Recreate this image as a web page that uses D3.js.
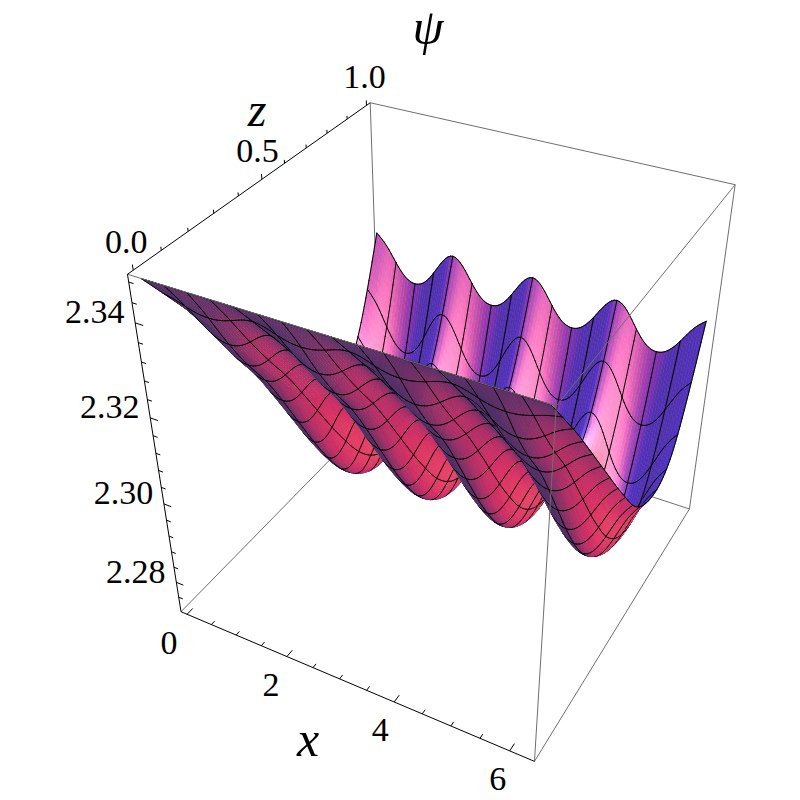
<!DOCTYPE html>
<html><head><meta charset="utf-8">
<style>html,body{margin:0;padding:0;background:#fff}svg{display:block}text{font-family:"Liberation Serif",serif;fill:#000}</style>
<script src="https://cdn.jsdelivr.net/npm/d3@7"></script>
</head><body><svg id="c" width="800" height="800"></svg>
<script>
// ---- values ----
const xDomain = [-0.126, 6.409];
const zDomain = [-0.02, 1.02];
const psiDomain = [2.3495, 2.272];
const xMajorTicks = [0, 2, 4, 6];
const xMinorTicks = [0.5, 1, 1.5, 2.5, 3, 3.5, 4.5, 5, 5.5];
const zMajorTicks = [0, 0.5, 1];
const zMinorTicks = [0.1, 0.2, 0.3, 0.4, 0.6, 0.7, 0.8, 0.9];
const psiMajorTicks = [2.34, 2.32, 2.30, 2.28];
const psiMinorTicks = [2.348, 2.344, 2.336, 2.332, 2.328, 2.324, 2.316, 2.312, 2.308, 2.304, 2.296, 2.292, 2.288, 2.284, 2.276];
const xTickLabels = ["0", "2", "4", "6"];
const zTickLabels = ["0.0", "0.5", "1.0"];
const psiTickLabels = ["2.34", "2.32", "2.30", "2.28"];
// psi along z (evenly spaced from 0 to 1) on a ripple crest and in a ripple trough
const crestPsi = [2.3483,2.3441,2.3398,2.3356,2.3309,2.3263,2.3216,2.3170,2.3123,2.3077,2.3034,2.2987,2.2953,2.2929,2.2918,2.2914,2.2925,2.2956,2.3022,2.3108,2.3204];
const troughPsi = [2.3483,2.3425,2.3356,2.3294,2.3239,2.3193,2.3131,2.3065,2.2999,2.2933,2.2875,2.2822,2.2782,2.2753,2.2736,2.2728,2.2739,2.2778,2.2867,2.2968,2.3100];
// share of crest at x = 0 ... 2 pi, evenly spaced
const rippleShare = [1,.8,.4,.09,0,.09,.4,.8,1,.8,.4,.09,0,.09,.4,.8,1,.8,.4,.09,0,.09,.4,.8,1,.8,.4,.09,0,.09,.4,.8,1];
const xMax = 6.2832;
// image position of the box corners [u,v,w, px,py]
const frameCorners = [[0,0,0,127.5,274],[0,1,0,370.5,103],[1,1,0,735,184],[1,0,0,556,407],[0,0,1,180.7,611.7],[1,0,1,535,761],[1,1,1,689.3,509.3]];
const ambientLight = [0.312,0.188,0.4];
const lightColors = [[0.68,0,0],[0,0.35,0],[0,0,0.55]];
const lightDirs = [[1.5,0.5,-1.5],[1.5,-1.5,-1.5],[-0.5,-1.5,-1.5]];
const specular = 0.27, shininess = 14;

// ---- scales ----
const uScale = d3.scaleLinear().domain(xDomain).range([0,1]);
const vScale = d3.scaleLinear().domain(zDomain).range([0,1]);
const wScale = d3.scaleLinear().domain(psiDomain).range([0,1]);

// ---- perspective fit (least squares) ----
function solve(A,b){const n=b.length;const M=A.map((r,i)=>[...r,b[i]]);
 for(let i=0;i<n;i++){let p=i;for(let k=i+1;k<n;k++)if(Math.abs(M[k][i])>Math.abs(M[p][i]))p=k;[M[i],M[p]]=[M[p],M[i]];
  for(let k=0;k<n;k++)if(k!==i){const f=M[k][i]/M[i][i];for(let c=i;c<=n;c++)M[k][c]-=f*M[i][c];}}
 return M.map((r,i)=>r[n]/r[i]);}
const rows=[],rhs=[];
frameCorners.forEach(([u,v,w,px,py])=>{
 rows.push([1,u,v,w,0,0,0,0,-px*u,-px*v,-px*w]);rhs.push(px);
 rows.push([0,0,0,0,1,u,v,w,-py*u,-py*v,-py*w]);rhs.push(py);});
const AtA=d3.range(11).map(i=>d3.range(11).map(j=>d3.sum(rows,r=>r[i]*r[j])));
const Atb=d3.range(11).map(i=>d3.sum(rows,(r,k)=>r[i]*rhs[k]));
const P=solve(AtA,Atb);
const depthOf=(u,v,w)=>1+P[8]*u+P[9]*v+P[10]*w;
const project=(u,v,w)=>{const d=depthOf(u,v,w);return [(P[0]+P[1]*u+P[2]*v+P[3]*w)/d,(P[4]+P[5]*u+P[6]*v+P[7]*w)/d];};
const camAt=f=>(u,v,w)=>{const d=depthOf(u,v,w),p=project(u,v,w);return [(p[0]-400)*d/f,(p[1]-400)*d/f,d];};
const sub=(a,b)=>[a[0]-b[0],a[1]-b[1],a[2]-b[2]];
const dot=(a,b)=>a[0]*b[0]+a[1]*b[1]+a[2]*b[2];
const cross=(a,b)=>[a[1]*b[2]-a[2]*b[1],a[2]*b[0]-a[0]*b[2],a[0]*b[1]-a[1]*b[0]];
const unit=a=>{const l=Math.hypot(...a)||1;return a.map(x=>x/l);};
const focal=d3.least(d3.range(150,6000,10),f=>{const c=camAt(f),o=c(0,0,0);
 const a=unit(sub(c(1,0,0),o)),b=unit(sub(c(0,1,0),o)),e=unit(sub(c(0,0,1),o));
 return dot(a,b)**2+dot(a,e)**2+dot(b,e)**2;});
const cam=camAt(focal);

// ---- surface ----
const crestAt=d3.interpolateBasis(crestPsi),troughAt=d3.interpolateBasis(troughPsi),shareAt=d3.interpolateBasis(rippleShare);
const psiAt=(tx,tz)=>{const s=shareAt(tx);return s*crestAt(tz)+(1-s)*troughAt(tz);};
const perMeshX=8,perMeshZ=6,meshCells=16,nx=perMeshX*meshCells,nz=perMeshZ*meshCells;
const grid=d3.range(nx+1).map(i=>d3.range(nz+1).map(j=>{
 const tx=i/nx,tz=j/nz,u=uScale(tx*xMax),v=vScale(tz),w=wScale(psiAt(tx,tz));
 return {u,v,w,s:project(u,v,w),c:cam(u,v,w)};}));
const lights=lightDirs.map(unit);
function shade(a,b,c,d){
 let n=unit(cross(sub(c.c,a.c),sub(d.c,b.c)));
 const m=[0,1,2].map(k=>(a.c[k]+b.c[k]+c.c[k]+d.c[k])/4);
 const view=unit(m.map(x=>-x));
 if(dot(n,view)<0)n=n.map(x=>-x);
 const col=[0,1,2].map(k=>ambientLight[k]);
 lights.forEach((L,i)=>{
  const nl=Math.max(0,dot(n,L));
  const h=unit([L[0]+view[0],L[1]+view[1],L[2]+view[2]]);
  const sp=nl>0?specular*Math.pow(Math.max(0,dot(n,h)),shininess):0;
  for(let k=0;k<3;k++)col[k]+=lightColors[i][k]*nl+sp;
 });
 return d3.rgb(...col.map(x=>Math.min(255,Math.max(0,x*255))))+"";
}
const items=[];
const dists=[];
for(let i=0;i<nx;i++)for(let j=0;j<nz;j++){
 const a=grid[i][j],b=grid[i+1][j],c=grid[i+1][j+1],d=grid[i][j+1];
 const depth=(a.c[2]+b.c[2]+c.c[2]+d.c[2])/4;
 dists.push(depth);
 items.push({depth,pts:[a.s,b.s,c.s,d.s],fill:shade(a,b,c,d)});
}
const bias=0.012*(d3.max(dists)-d3.min(dists));
function meshSeg(a,b){items.push({depth:(a.c[2]+b.c[2])/2-bias,pts:[a.s,b.s],line:true});}
for(let i=0;i<=nx;i++)for(let j=0;j<=nz;j++){
 if(i%perMeshX===0&&j<nz)meshSeg(grid[i][j],grid[i][j+1]);
 if(j%perMeshZ===0&&i<nx)meshSeg(grid[i][j],grid[i+1][j]);
}
items.sort((a,b)=>b.depth-a.depth);

// ---- drawing ----
const svg=d3.select("#c");
const line=d3.line();
const corner=(u,v,w)=>project(u,v,w);
const A=[0,0,0],B=[0,1,0],C=[1,1,0],D=[1,0,0],E=[0,0,1],F=[1,0,1],G=[1,1,1],H=[0,1,1];
const grey="#6f6f6f";
const backEdges=[[E,H],[H,G],[B,H]];
const frontEdges=[[A,D],[B,C],[C,D],[C,G],[D,F],[F,G]];
const axisEdges=[[A,B],[A,E],[E,F]];
const edge=(g,list,col,wd)=>g.selectAll("path").data(list).join("path")
 .attr("d",e=>line([corner(...e[0]),corner(...e[1])])).attr("stroke",col).attr("stroke-width",wd).attr("fill","none");
edge(svg.append("g"),backEdges,grey,1);
svg.append("g").selectAll("path").data(items).join("path")
 .attr("d",d=>line(d.pts)+(d.line?"":"Z"))
 .attr("fill",d=>d.line?"none":d.fill)
 .attr("stroke",d=>d.line?"#000":d.fill)
 .attr("stroke-width",d=>d.line?1:0.6)
 .attr("stroke-linecap","round");
edge(svg.append("g"),frontEdges,grey,1);
edge(svg.append("g"),axisEdges,"#000",1);

// ticks
const tickG=svg.append("g").attr("stroke","#000").attr("stroke-width",1);
const seg=(p,q)=>tickG.append("path").attr("d",line([project(...p),project(...q)])).attr("fill","none");
xMajorTicks.forEach(t=>seg([uScale(t),0,1],[uScale(t),0.024,1]));
xMinorTicks.forEach(t=>seg([uScale(t),0,1],[uScale(t),0.014,1]));
zMajorTicks.forEach(t=>seg([0,vScale(t),0],[0,vScale(t),-0.014]));
zMinorTicks.forEach(t=>seg([0,vScale(t),0],[0,vScale(t),-0.009]));
psiMajorTicks.forEach(t=>seg([0,0,wScale(t)],[0.022,0,wScale(t)]));
psiMinorTicks.forEach(t=>seg([0,0,wScale(t)],[0.013,0,wScale(t)]));

// labels
const tickFont=34,digitMid=11.5;
const label=(txt,p,dx,dy)=>svg.append("text").attr("x",p[0]+dx).attr("y",p[1]+dy+digitMid)
 .attr("text-anchor","middle").attr("font-size",tickFont).text(txt);
xMajorTicks.forEach((t,i)=>label(xTickLabels[i],project(uScale(t),0,1),-18+t,28));
zMajorTicks.forEach((t,i)=>label(zTickLabels[i],project(0,vScale(t),0),-7+5*t,-29));
psiMajorTicks.forEach((t,i)=>label(psiTickLabels[i],project(0,0,wScale(t)),-40.5,-11));
const title=(txt,x,y,size)=>svg.append("text").attr("x",x).attr("y",y).attr("text-anchor","middle")
 .attr("font-size",size).attr("font-style","italic").text(txt);
title("ψ",428,44,50);
title("z",257,126,48);
title("x",308,756,50);
</script></body></html>
